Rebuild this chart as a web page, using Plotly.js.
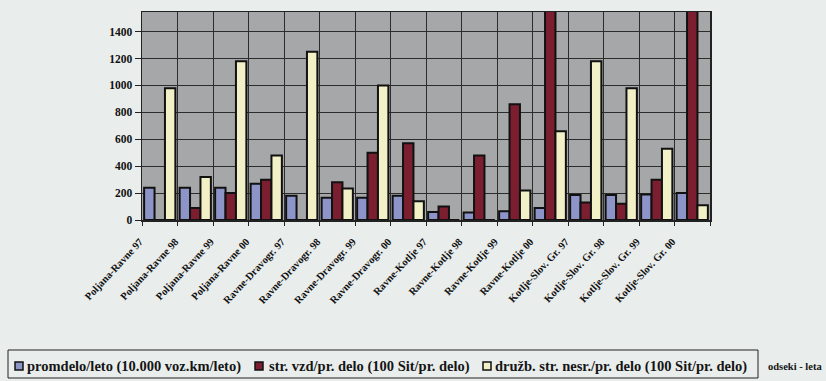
<!DOCTYPE html>
<html>
<head>
<meta charset="utf-8">
<script src="https://cdn.plot.ly/plotly-3.0.1.min.js"></script>
<style>
  html, body { margin: 0; padding: 0; background: #e9edec; }
  #chart { width: 826px; height: 381px; }
</style>
</head>
<body>
<div id="chart"></div>
<script>
// Road sections by year
const categories = [
  "Poljana-Ravne 97", "Poljana-Ravne 98", "Poljana-Ravne 99", "Poljana-Ravne 00",
  "Ravne-Dravogr. 97", "Ravne-Dravogr. 98", "Ravne-Dravogr. 99", "Ravne-Dravogr. 00",
  "Ravne-Kotlje 97", "Ravne-Kotlje 98", "Ravne-Kotlje 99", "Ravne-Kotlje 00",
  "Kotlje-Slov. Gr. 97", "Kotlje-Slov. Gr. 98", "Kotlje-Slov. Gr. 99", "Kotlje-Slov. Gr. 00"
];

// Series values
const promdelo   = [240, 240, 240, 270, 180, 165, 165, 180, 60, 55, 65, 90, 185, 185, 190, 200];
const strVzd     = [0, 90, 200, 300, 0, 280, 500, 570, 100, 480, 860, 1600, 130, 120, 300, 1600];
const druzbStr   = [980, 320, 1180, 480, 1250, 235, 1000, 140, 0, 0, 220, 660, 1180, 980, 530, 110];

const seriesNames = [
  "promdelo/leto (10.000 voz.km/leto)",
  "str. vzd/pr. delo (100 Sit/pr. delo)",
  "družb. str. nesr./pr. delo (100 Sit/pr. delo)"
];
const seriesColors = ["#8d94c8", "#7b1f30", "#f2f0c6"];

const yTicks = [0, 200, 400, 600, 800, 1000, 1200, 1400];
const xAxisTitle = "odseki - leta";

const serif = "Liberation Serif, Times New Roman, serif";

// Plot box in pixels, used to place the hand-drawn legend in paper units
const W = 826, H = 381;
const box = { l: 142, r: 710, t: 12, b: 220 };
const px = v => (v - box.l) / (box.r - box.l);
const py = v => (box.b - v) / (box.b - box.t);

const traces = [promdelo, strVzd, druzbStr].map((vals, i) => ({
  type: "bar",
  name: seriesNames[i],
  x: categories,
  y: vals,
  marker: { color: seriesColors[i], line: { color: "#111", width: 2 } },
  showlegend: false
}));

// Legend: frame, colour keys and labels
const keyX = [15, 255, 483];
const textX = [25, 267, 493];
const legendY = 366;

const shapes = [{
  type: "rect", xref: "paper", yref: "paper",
  x0: px(8), x1: px(758), y0: py(350), y1: py(378),
  line: { color: "#222", width: 1 }, fillcolor: "rgba(0,0,0,0)"
}];
const annotations = [];
seriesNames.forEach((name, i) => {
  shapes.push({
    type: "rect", xref: "paper", yref: "paper",
    x0: px(keyX[i]), x1: px(keyX[i] + 8), y0: py(legendY - 4), y1: py(legendY + 4),
    line: { color: "#111", width: 1.5 }, fillcolor: seriesColors[i]
  });
  annotations.push({
    xref: "paper", yref: "paper", x: px(textX[i]), y: py(legendY),
    xanchor: "left", yanchor: "middle", showarrow: false,
    text: "<b>" + name + "</b>",
    font: { family: serif, size: 14.5, color: "#151515" }
  });
});
annotations.push({
  xref: "paper", yref: "paper", x: px(766), y: py(legendY),
  xanchor: "left", yanchor: "middle", showarrow: false,
  text: "<b>" + xAxisTitle + "</b>",
  font: { family: serif, size: 10.5, color: "#151515" }
});

const layout = {
  width: W,
  height: H,
  margin: { l: box.l, r: W - box.r, t: box.t, b: H - box.b },
  paper_bgcolor: "#e9edec",
  plot_bgcolor: "#a6a7a9",
  barmode: "group",
  bargap: 0.12,
  bargroupgap: 0,
  font: { family: serif, color: "#111" },
  xaxis: {
    type: "category",
    tickson: "boundaries",
    ticks: "outside",
    ticklen: 4,
    tickcolor: "#222",
    showgrid: true,
    gridcolor: "#2c2c2c",
    gridwidth: 1,
    tickangle: -47,
    ticklabelshift: -20,
    ticklabelstandoff: 10,
    tickfont: { family: serif, size: 10.5, color: "#111", weight: "bold" },
    showline: true,
    linecolor: "#222",
    linewidth: 1.5,
    mirror: true
  },
  yaxis: {
    range: [0, 1546],
    tickvals: yTicks,
    ticktext: yTicks.map(String),
    ticks: "outside",
    ticklen: 6,
    tickcolor: "#222",
    showgrid: true,
    gridcolor: "#2c2c2c",
    gridwidth: 1,
    zeroline: false,
    showline: true,
    linecolor: "#222",
    linewidth: 1.5,
    mirror: true,
    tickfont: { family: serif, size: 11.5, color: "#111", weight: "bold" }
  },
  shapes: shapes,
  annotations: annotations
};

Plotly.newPlot("chart", traces, layout, { staticPlot: true });
</script>
</body>
</html>
